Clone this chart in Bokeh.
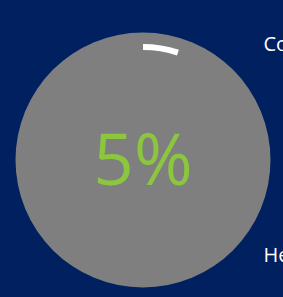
import math
from bokeh.plotting import figure
from bokeh.models import Range1d, GlobalInlineStyleSheet
from bokeh.core.properties import value
from bokeh.embed import file_html
from bokeh.resources import INLINE

# Data
progress_pct = 5
center_label = ["5%"]
legend_labels = ["Complete", "Help"]

BG = "#002060"
W, H = 283, 297

p = figure(width=W, height=H, output_backend="svg", toolbar_location=None,
           x_range=Range1d(0, W), y_range=Range1d(0, H), min_border=0)
p.axis.visible = False
p.grid.visible = False
p.outline_line_color = None
p.background_fill_color = BG
p.border_fill_color = BG
p.stylesheets = [GlobalInlineStyleSheet(css="body{background:%s;}" % BG)]

cx, cy = 142.5, 137.5
p.circle(x=[cx], y=[cy], radius=127.5, fill_color="#7F7F7F", line_color=None)

frac = progress_pct / 100.0
p.arc(x=[cx], y=[cy], radius=113, start_angle=math.pi / 2 - 2 * math.pi * frac,
      end_angle=math.pi / 2, line_color="white", line_width=6, line_cap="butt")

p.text(x=[cx], y=[140], text=center_label, text_color="#8CC63F",
       text_font=value("Open Sans"), text_font_size="71px",
       text_align="center", text_baseline="alphabetic")

p.text(x=[263, 263], y=[254, 43], text=legend_labels, text_color="white",
       text_font=value("Open Sans"), text_font_size="20px",
       text_align="left", text_baseline="alphabetic")

open("out.html", "w").write(file_html(p, INLINE))
